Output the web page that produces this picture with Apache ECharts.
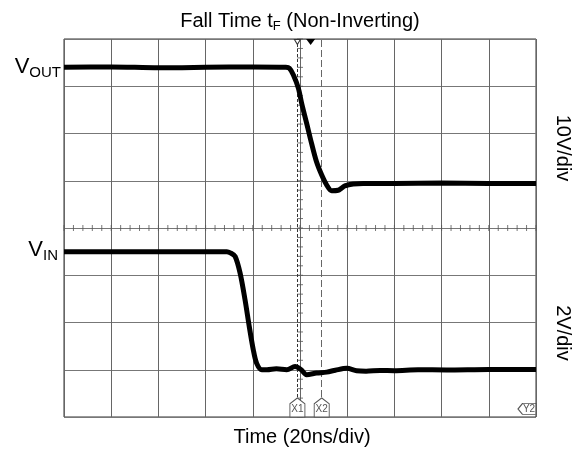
<!DOCTYPE html>
<html><head><meta charset="utf-8">
<script src="https://cdn.jsdelivr.net/npm/echarts@6/dist/echarts.min.js"></script>
<style>html,body{margin:0;padding:0;background:#fff}#c{width:584px;height:450px}</style>
</head><body><div id="c"></div>
<script>
// ---- Data (time in ns, 20 ns/div) ----
const voutTime   = [0, 20, 40, 60, 80, 94, 95.5, 97.2, 99.3, 100.7, 102.8, 104.9, 107, 109.2, 111.3, 113.4, 116.2, 117.5, 119, 122.5, 126.8, 140, 160, 180, 200];
const voutValues = [24.0, 24.1, 23.9, 24.0, 24.1, 24.0, 23.8, 22.4, 19.6, 16.4, 12.2, 7.9, 4.0, 1.2, -0.9, -2.1, -2.0, -1.6, -1.1, -0.7, -0.6, -0.6, -0.5, -0.6, -0.6];
const vinTime    = [0, 20, 40, 60, 69, 70.5, 72.5, 74.6, 76.7, 78.5, 80.2, 81.6, 83.8, 86, 90, 94.4, 97.9, 100.5, 102.8, 107, 111.3, 115, 119.8, 124, 128, 134, 140, 150, 162, 180, 200];
const vinValues  = [5.0, 5.0, 5.0, 5.0, 5.0, 4.95, 4.8, 4.1, 2.97, 1.83, 0.85, 0.28, 0.0, 0.0, 0.04, 0.0, 0.14, 0.0, -0.21, -0.14, -0.1, -0.02, 0.06, -0.04, -0.06, -0.03, -0.04, 0.0, -0.01, 0.01, 0.01];
const cursorNames = ['X1', 'X2'];
const cursorTimes = [98.9, 109.2];
const triggerTime = 104.5;
const y2Level = -48.3;               // on VOUT scale
const timeAxis = {min: 0, max: 200, interval: 20};      // 20 ns/div
const voutAxis = {min: -50, max: 30, interval: 10};     // 10 V/div
const vinAxis  = {min: -2, max: 14, interval: 2};       // 2 V/div
const centerTime = 100, centerVout = -10;

const zip = (a, b) => a.map((v, i) => [v, b[i]]);
const hTicks = [];
for (let t = timeAxis.min; t <= timeAxis.max; t += timeAxis.interval / 5) hTicks.push([t, centerVout]);
const vTicks = [];
for (let v = voutAxis.min; v <= voutAxis.max; v += voutAxis.interval / 5) vTicks.push([centerTime, v]);

const FONT = 'Liberation Sans, Arial, sans-serif';
const chart = echarts.init(document.getElementById('c'));
const hidden = {axisLabel: {show: false}, axisTick: {show: false}, axisLine: {show: false}};
chart.setOption({
  animation: false,
  backgroundColor: '#fff',
  grid: {left: 64, right: 48, top: 39, bottom: 33, show: true, borderColor: '#333', borderWidth: 1},
  xAxis: [Object.assign({type: 'value', min: timeAxis.min, max: timeAxis.max, interval: timeAxis.interval,
    splitLine: {show: true, lineStyle: {color: '#666', width: 1}}}, hidden)],
  yAxis: [
    Object.assign({type: 'value', min: voutAxis.min, max: voutAxis.max, interval: voutAxis.interval,
      splitLine: {show: true, lineStyle: {color: '#777', width: 1}}}, hidden),
    Object.assign({type: 'value', min: vinAxis.min, max: vinAxis.max, interval: vinAxis.interval,
      splitLine: {show: false}}, hidden)
  ],
  series: [
    {type: 'scatter', data: hTicks, symbol: 'rect', symbolSize: [1, 6], itemStyle: {color: '#555'}, silent: true, z: 2},
    {type: 'scatter', data: vTicks, symbol: 'rect', symbolSize: [6, 1], itemStyle: {color: '#555'}, silent: true, z: 2},
    {
      type: 'line', data: [], silent: true, z: 3,
      markLine: {
        silent: true, symbol: 'none', label: {show: false}, animation: false,
        data: [
          {xAxis: cursorTimes[0], lineStyle: {color: '#333', width: 1, type: [3, 2]}},
          {xAxis: cursorTimes[1], lineStyle: {color: '#666', width: 1, type: [7, 3]}}
        ]
      },
      markPoint: {
        silent: true, animation: false,
        data: [
          ...cursorNames.map((n, i) => ({
            coord: [cursorTimes[i], voutAxis.min], symbol: 'path://M0,6 L7,0 L14,6 L14,20 L0,20 Z',
            symbolSize: [15, 19], symbolOffset: [0, '-50%'],
            itemStyle: {color: '#fff', borderColor: '#555', borderWidth: 1},
            label: {show: true, position: 'inside', formatter: n, color: '#555', fontSize: 10, fontFamily: FONT, offset: [0, 2]}
          })),
          {coord: [timeAxis.max, y2Level], symbol: 'path://M0,5 L5,0 L20,0 L20,10 L5,10 Z',
            symbolSize: [18, 11], symbolOffset: ['-50%', 0],
            itemStyle: {color: '#fff', borderColor: '#555', borderWidth: 1},
            label: {show: true, position: 'inside', formatter: 'Y2', color: '#555', fontSize: 10, fontFamily: FONT, offset: [2, 0]}},
          {coord: [triggerTime, voutAxis.max], symbol: 'triangle', symbolRotate: 180, symbolSize: [9, 6],
            symbolOffset: [0, 3], itemStyle: {color: '#000'}, label: {show: false}},
          {coord: [cursorTimes[0], voutAxis.max], symbol: 'triangle', symbolRotate: 180, symbolSize: [6, 5],
            symbolOffset: [0, 3], itemStyle: {color: '#fff', borderColor: '#333', borderWidth: 1}, label: {show: false}}
        ]
      }
    },
    {type: 'line', name: 'VOUT', yAxisIndex: 0, data: zip(voutTime, voutValues), showSymbol: false, symbol: 'none',
      smooth: 0.3, lineStyle: {color: '#000', width: 5}, z: 5, silent: true},
    {type: 'line', name: 'VIN', yAxisIndex: 1, data: zip(vinTime, vinValues), showSymbol: false, symbol: 'none',
      smooth: 0.3, lineStyle: {color: '#000', width: 5}, z: 5, silent: true}
  ],
  graphic: [
    {type: 'text', x: 300, y: 22, style: {
      text: '{a|Fall Time t}{s|F}{a| (Non-Inverting)}', align: 'center', verticalAlign: 'middle', fill: '#000',
      rich: {a: {fontSize: 20, fontFamily: FONT, verticalAlign: 'bottom', padding: [0, 0, 2, 0]},
             s: {fontSize: 13, fontFamily: FONT, verticalAlign: 'bottom'}}}},
    {type: 'text', x: 61, y: 68, style: {
      text: '{a|V}{s|OUT}', align: 'right', verticalAlign: 'middle', fill: '#000',
      rich: {a: {fontSize: 22, fontFamily: FONT, verticalAlign: 'bottom', padding: [0, 0, 3, 0]},
             s: {fontSize: 15, fontFamily: FONT, verticalAlign: 'bottom'}}}},
    {type: 'text', x: 58, y: 251, style: {
      text: '{a|V}{s|IN}', align: 'right', verticalAlign: 'middle', fill: '#000',
      rich: {a: {fontSize: 22, fontFamily: FONT, verticalAlign: 'bottom', padding: [0, 0, 3, 0]},
             s: {fontSize: 15, fontFamily: FONT, verticalAlign: 'bottom'}}}},
    {type: 'text', x: 563, y: 148, rotation: -Math.PI / 2, style: {
      text: '10V/div', align: 'center', verticalAlign: 'middle', fill: '#000', fontSize: 20, fontFamily: FONT}},
    {type: 'text', x: 563, y: 333, rotation: -Math.PI / 2, style: {
      text: '2V/div', align: 'center', verticalAlign: 'middle', fill: '#000', fontSize: 20, fontFamily: FONT}},
    {type: 'text', x: 302, y: 437, style: {
      text: 'Time (20ns/div)', align: 'center', verticalAlign: 'middle', fill: '#000', fontSize: 20, fontFamily: FONT}}
  ]
});
</script></body></html>
